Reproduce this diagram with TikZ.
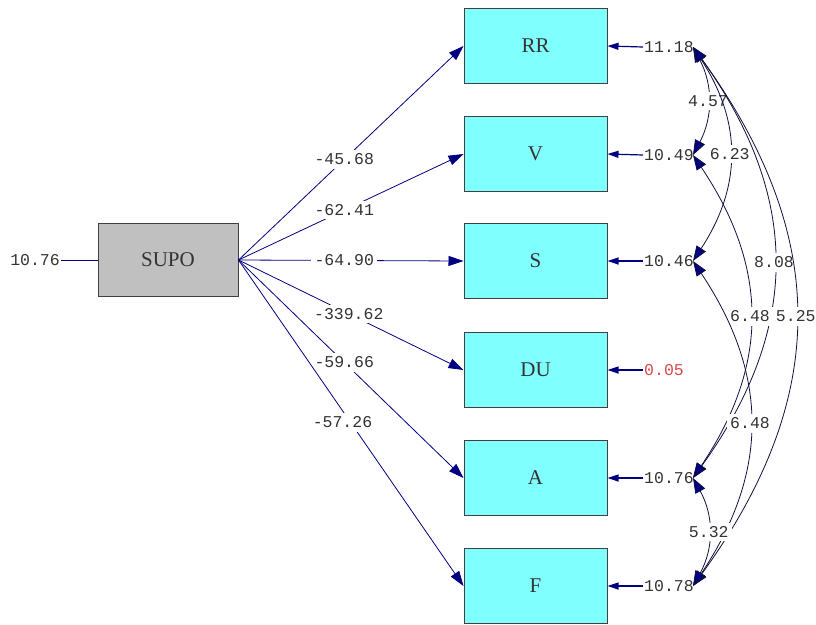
\documentclass[tikz,border=0pt]{standalone}
\usepackage{fontspec}
\setmainfont{Liberation Serif}
\newfontfamily\monof{Liberation Mono}
\usetikzlibrary{arrows.meta}
\definecolor{boxcyan}{HTML}{80FFFF}
\definecolor{boxgray}{HTML}{C0C0C0}
\definecolor{navyline}{HTML}{000080}
\definecolor{covline}{HTML}{101040}
\definecolor{txtgray}{HTML}{333333}
\definecolor{redval}{HTML}{D84848}
\begin{document}
\begin{tikzpicture}[x=1pt,y=-1pt,
  obs/.style={draw=black!75, line width=1pt, fill=boxcyan, minimum width=143pt, minimum height=75pt, inner sep=0pt, font=\fontsize{21}{21}\selectfont, text=txtgray},
  lat/.style={obs, fill=boxgray, minimum width=140pt, minimum height=73pt},
  num/.style={font=\monof\fontsize{16.5}{16.5}\selectfont, text=txtgray, inner sep=1pt},
  plab/.style={num, fill=white, inner sep=3.5pt},
  loadpath/.style={draw=navyline, line width=0.8pt, -{Triangle[length=15pt,width=10pt]}},
  errpath/.style={draw=navyline, line width=1.2pt, -{Triangle[length=11pt,width=7pt]}},
  cov/.style={draw=covline, line width=0.8pt, {Triangle[length=15pt,width=11pt,fill=navyline]}-{Triangle[length=15pt,width=11pt,fill=navyline]}},
]
\useasboundingbox (0,0) rectangle (816,624);

% latent
\node[lat] (SUPO) at (168,260) {SUPO};
\node[num, anchor=east] (eSUPO) at (61,260) {10.76};
\draw[draw=navyline, line width=1pt] (eSUPO) -- (SUPO);

% observed
\node[obs] (RR) at (535.5,46) {RR};
\node[obs] (V)  at (535.5,154) {V};
\node[obs] (S)  at (535.5,261) {S};
\node[obs] (DU) at (535.5,370) {DU};
\node[obs] (A)  at (535.5,478) {A};
\node[obs] (F)  at (535.5,586) {F};

% loadings
\draw[loadpath] (SUPO.east) -- (RR.west) node[plab, pos=0.47] {-45.68};
\draw[loadpath] (SUPO.east) -- (V.west)  node[plab, pos=0.47] {-62.41};
\draw[loadpath] (SUPO.east) -- (S.west)  node[plab, pos=0.47] {-64.90};
\draw[loadpath] (SUPO.east) -- (DU.west) node[plab, pos=0.49] {-339.62};
\draw[loadpath] (SUPO.east) -- (A.west)  node[plab, pos=0.47] {-59.66};
\draw[loadpath] (SUPO.east) -- (F.west)  node[plab, pos=0.48, xshift=-4pt, yshift=-6pt] {-57.26};

% error terms
\node[num, anchor=west] (eRR) at (643,47)  {11.18};
\node[num, anchor=west] (eV)  at (643,155) {10.49};
\node[num, anchor=west] (eS)  at (643,261) {10.46};
\node[num, anchor=west, text=redval] (eDU) at (643,370) {0.05};
\node[num, anchor=west] (eA)  at (643,478) {10.76};
\node[num, anchor=west] (eF)  at (643,586) {10.78};
\draw[errpath] (eRR.west) -- (RR.east);
\draw[errpath] (eV.west)  -- (V.east);
\draw[errpath] (eS.west)  -- (S.east);
\draw[errpath] (eDU.west) -- (DU.east);
\draw[errpath] (eA.west)  -- (A.east);
\draw[errpath] (eF.west)  -- (F.east);

% covariance end points
\coordinate (cRR) at (693,47);
\coordinate (cV)  at (693,155);
\coordinate (cS)  at (693,261);
\coordinate (cA)  at (693,478);
\coordinate (cF)  at (693,586);

% covariances
\draw[cov] (cRR) .. controls (713,85) and (713,117) .. (cV) node[plab, pos=0.5] {4.57};
\draw[cov] (cRR) .. controls (742,122) and (742,186) .. (cS) node[plab, pos=0.5] {6.23};
\draw[cov] (cRR) .. controls (801,197) and (801,328) .. (cA) node[plab, pos=0.5] {8.08};
\draw[cov] (cRR) .. controls (830,236) and (830,397) .. (cF) node[plab, pos=0.5] {5.25};
\draw[cov] (cV) .. controls (769,268) and (769,365) .. (cA) node[plab, pos=0.5] {6.48};
\draw[cov] (cS) .. controls (769,375) and (769,472) .. (cF) node[plab, pos=0.5] {6.48};
\draw[cov] (cA) .. controls (714,516) and (714,548) .. (cF) node[plab, pos=0.5] {5.32};
\end{tikzpicture}
\end{document}
